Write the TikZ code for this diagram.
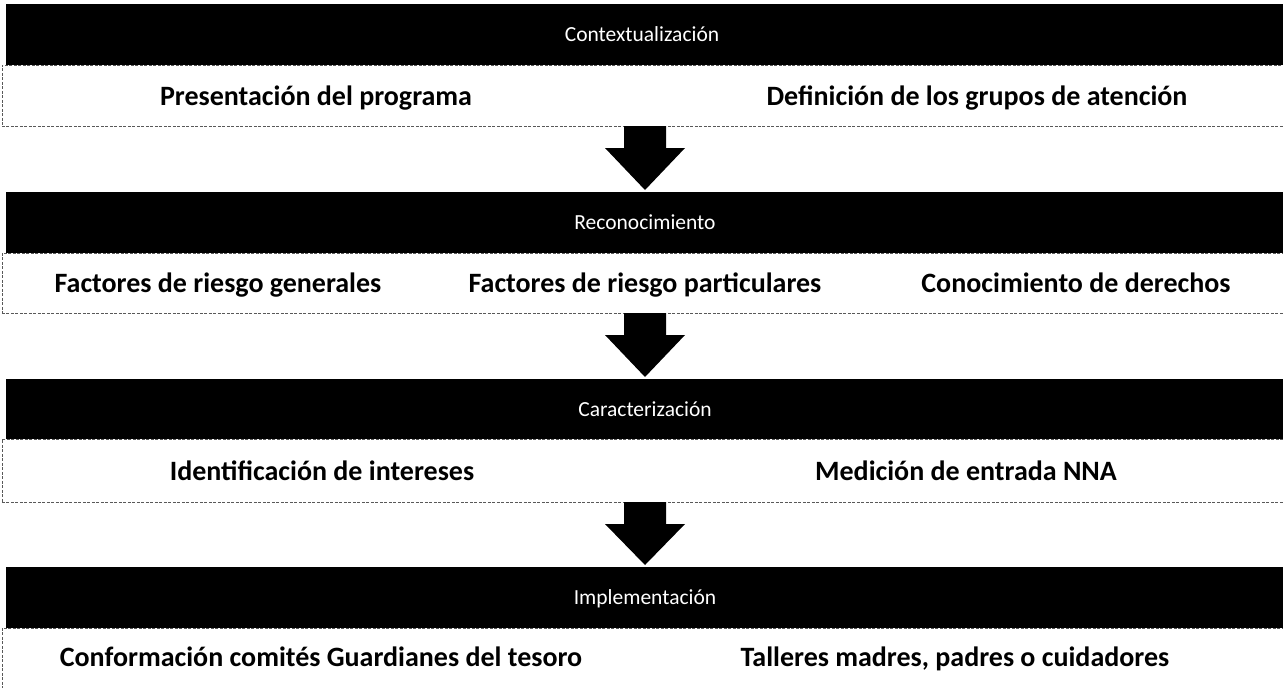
\documentclass[tikz,border=0pt]{standalone}
\usepackage{fontspec}
\setmainfont{Carlito}
\usetikzlibrary{calc}
\newcommand\fatarrow[2]{%
  \fill[black] let \p1=(#1), \p2=(#2.north) in
    (\x1-21pt,\y1) -- (\x1+21pt,\y1) -- (\x1+21pt,\y1-22pt) -- (\x1+40pt,\y1-22pt)
    -- (\x1,\y2+2pt) -- (\x1-40pt,\y1-22pt) -- (\x1-21pt,\y1-22pt) -- cycle;}
\begin{document}
\begin{tikzpicture}[x=1pt,y=-1pt,
  bar/.style={fill=black,draw=none,minimum width=1277pt,inner sep=0pt,anchor=north west},
  head/.style={text=white,font=\fontsize{21.5}{25}\selectfont,inner sep=0pt,anchor=base},
  panel/.style={draw=black!65,dashed,dash pattern=on 3pt off 1.5pt,line width=0.8pt,fill=white,
    minimum width=1282pt,inner sep=0pt,anchor=north west},
  item/.style={font=\bfseries\fontsize{28}{32}\selectfont,inner sep=0pt,anchor=base}]
\useasboundingbox[fill=white] (0,0) rectangle (1283,688);
% panels
\node[panel,minimum height=61pt] (box1) at (1.5,65) {};
\node[panel,minimum height=60pt] (box2) at (1.5,253) {};
\node[panel,minimum height=63pt] (box3) at (1.5,439) {};
\node[panel,minimum height=60pt] (box4) at (1.5,628) {};
% bars
\node[bar,minimum height=61pt] (bar1) at (6,4) {};
\node[bar,minimum height=61pt] (bar2) at (6,192) {};
\node[bar,minimum height=60pt] (bar3) at (6,379) {};
\node[bar,minimum height=61pt] (bar4) at (6,567) {};
\node[head] (t1) at (642,41) {Contextualización};
\node[head] (t2) at (645,229) {Reconocimiento};
\node[head] (t3) at (645,416) {Caracterización};
\node[head] (t4) at (645,604) {Implementación};
% items
\node[item] (i11) at (316,105) {Presentación del programa};
\node[item] (i12) at (977,105) {Definición de los grupos de atención};
\node[item] (i21) at (218,292) {Factores de riesgo generales};
\node[item] (i22) at (645,292) {Factores de riesgo particulares};
\node[item] (i23) at (1076,292) {Conocimiento de derechos};
\node[item] (i31) at (322,480) {Identificación de intereses};
\node[item] (i32) at (966,480) {Medición de entrada NNA};
\node[item] (i41) at (321,666) {Conformación comités Guardianes del tesoro};
\node[item] (i42) at (955,666) {Talleres madres, padres o cuidadores};
% arrows
\coordinate (s1) at (645,126);
\coordinate (s2) at (645,313);
\coordinate (s3) at (645,502);
\fatarrow{s1}{bar2}
\fatarrow{s2}{bar3}
\fatarrow{s3}{bar4}
\end{tikzpicture}
\end{document}
